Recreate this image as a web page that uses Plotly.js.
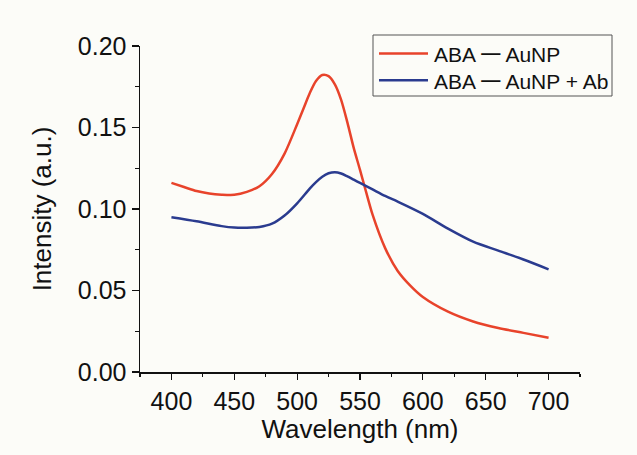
<!DOCTYPE html>
<html>
<head>
<meta charset="utf-8">
<script src="https://cdn.plot.ly/plotly-3.0.1.min.js"></script>
<style>html,body{margin:0;padding:0;background:#fcfcf8;}#chart{width:637px;height:455px;}</style>
</head>
<body>
<div id="chart"></div>
<script>
const wavelengthRed = [400,410,420,430,440,450,460,470,480,490,500,505,510,515,520,525,530,535,540,545,550,555,560,570,580,590,600,620,640,660,680,700];
const abaAuNP = [0.116,0.1135,0.111,0.1095,0.1088,0.1087,0.1105,0.1140,0.1215,0.1340,0.1520,0.1615,0.1710,0.1785,0.1822,0.1815,0.1765,0.1670,0.1530,0.1375,0.1240,0.1100,0.0965,0.0760,0.0620,0.0530,0.0460,0.0370,0.0310,0.0270,0.0240,0.0210];
const wavelengthBlue = [400,420,440,450,460,470,480,490,500,510,515,520,525,530,535,540,545,550,560,570,580,600,620,640,660,680,700];
const abaAuNPAb = [0.095,0.0925,0.0895,0.0886,0.0885,0.0890,0.0910,0.0960,0.1035,0.1125,0.1165,0.1198,0.1219,0.1226,0.1218,0.1200,0.1180,0.1160,0.1120,0.1080,0.1045,0.0970,0.0880,0.0800,0.0745,0.0690,0.0630];
const seriesNames = ["ABA\u2009\u4e00\u2009AuNP", "ABA\u2009\u4e00\u2009AuNP + Ab"];
const seriesColors = ["#e8432b", "#2a3b8f"];
const yTickVals = [0, 0.05, 0.10, 0.15, 0.20];
const xTickVals = [400,450,500,550,600,650,700];

const font = "Liberation Sans, Arial, 'Noto Sans CJK SC', sans-serif";
const data = [
  {x: wavelengthRed, y: abaAuNP, name: seriesNames[0], mode: "lines",
   line: {color: seriesColors[0], width: 2.5, shape: "spline", smoothing: 0.8}},
  {x: wavelengthBlue, y: abaAuNPAb, name: seriesNames[1], mode: "lines",
   line: {color: seriesColors[1], width: 2.5, shape: "spline", smoothing: 0.8}}
];

// custom legend (paper coordinates)
const L = 140, T = 46, W = 440, H = 326;
const px = v => (v - L) / W;
const py = v => (T + H - v) / H;
const rowsY = [53.5, 80.3];
const shapes = [
  {type: "rect", xref: "paper", yref: "paper", x0: px(373), x1: px(612), y0: py(96), y1: py(35),
   line: {color: "#555", width: 1}, fillcolor: "#fcfcf8", layer: "above"}
];
const annotations = [];
seriesNames.forEach((n, i) => {
  shapes.push({type: "line", xref: "paper", yref: "paper", x0: px(379), x1: px(428), y0: py(rowsY[i]), y1: py(rowsY[i]),
    line: {color: seriesColors[i], width: 2.5}, layer: "above"});
  annotations.push({xref: "paper", yref: "paper", x: px(432), y: py(rowsY[i] + 1.5), xanchor: "left", yanchor: "middle",
    text: n, showarrow: false, font: {family: font, size: 21, color: "#111"}});
});

const layout = {
  width: 637, height: 455,
  paper_bgcolor: "#fcfcf8", plot_bgcolor: "#fcfcf8",
  margin: {l: L, r: 637 - L - W, t: T, b: 455 - T - H},
  font: {family: font, color: "#111", size: 25},
  showlegend: false,
  shapes: shapes, annotations: annotations,
  xaxis: {range: [375, 725], tickvals: xTickVals, ticks: "outside", ticklen: 6, tickwidth: 1.2,
    tickcolor: "#111", showline: true, linecolor: "#111", linewidth: 1.5, showgrid: false, zeroline: false,
    tickfont: {size: 25},
    minor: {dtick: 25, tick0: 375, ticks: "outside", ticklen: 3, tickcolor: "#111", tickwidth: 1.2, showgrid: false},
    title: {text: "Wavelength (nm)", font: {size: 26}, standoff: 6}},
  yaxis: {range: [0, 0.2], tickvals: yTickVals, tickformat: ".2f", ticks: "outside", ticklen: 7, tickwidth: 1.2,
    tickcolor: "#111", showline: true, linecolor: "#111", linewidth: 1.5, showgrid: false, zeroline: false,
    tickfont: {size: 25},
    minor: {dtick: 0.025, ticks: "outside", ticklen: 4, tickcolor: "#111", tickwidth: 1.2, showgrid: false},
    title: {text: "Intensity (a.u.)", font: {size: 26}, standoff: 18}}
};
Plotly.newPlot("chart", data, layout, {displayModeBar: false, staticPlot: true});
</script>
</body>
</html>
